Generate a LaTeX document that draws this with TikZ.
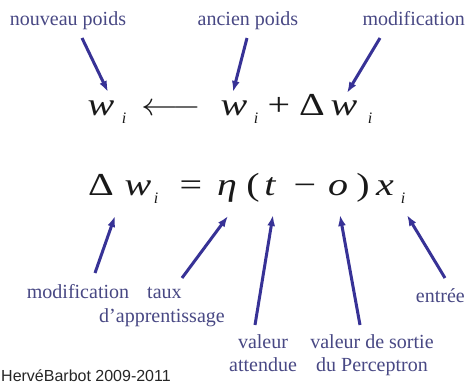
\RequirePackage{fix-cm}
\documentclass[tikz,border=0pt]{standalone}
\usepackage{fontspec}
\setmainfont{Liberation Serif}
\newfontfamily\creditfont{Liberation Sans}
\usetikzlibrary{arrows.meta}
\definecolor{lblc}{RGB}{72,72,132}
\definecolor{arrc}{RGB}{55,50,150}
\definecolor{eqc}{RGB}{25,25,25}
\begin{document}
\begin{tikzpicture}[x=1pt,y=-1pt,
  lbl/.style={text=lblc, font=\fontsize{20}{23}\selectfont, inner sep=0pt, anchor=base},
  glyph/.style={text=eqc, font=\fontsize{32}{36}\selectfont\itshape, inner sep=0pt, anchor=base, xscale=1.25},
  op/.style={text=eqc, font=\fontsize{32}{36}\selectfont, inner sep=0pt, anchor=base, xscale=1.25},
  subs/.style={text=eqc, font=\fontsize{16}{18}\selectfont\itshape, inner sep=0pt, anchor=base},
  arr/.style={draw=arrc, line width=3pt, -{Latex[length=11pt,width=8pt]}}]
\useasboundingbox[fill=white] (0,0) rectangle (467,383);
% equation 1
\node[glyph] (w1) at (101,115) {w};
\node[subs] (i1) at (124,123) {i};
\node[text=eqc, font=\fontsize{32}{36}\selectfont, inner sep=0pt, anchor=base, xscale=1.15] (la) at (171,115) {$\longleftarrow$};
\node[glyph] (w2) at (234,115) {w};
\node[subs] (i2) at (256,123) {i};
\node[op] (pl) at (279,115) {+};
\node[op] (D1) at (312,115) {Δ};
\node[glyph] (w3) at (344,115) {w};
\node[subs] (i3) at (370,123) {i};
% equation 2
\node[op] (D2) at (101,195) {Δ};
\node[glyph] (w4) at (138,195) {w};
\node[subs] (i4) at (156,203) {i};
\node[op] (eq) at (191,195) {=};
\node[glyph] (eta) at (227,195) {η};
\node[op] (lp) at (253,195) {(};
\node[glyph] (tt) at (270,195) {t};
\node[op] (mi) at (305,195) {−};
\node[glyph] (oo) at (338,195) {o};
\node[op] (rp) at (363,195) {)};
\node[glyph] (xx) at (385,195) {x};
\node[subs] (i5) at (403,203) {i};
% top labels
\node[lbl] (nouv) at (68,25) {nouveau poids};
\node[lbl] (anc) at (248,25) {ancien poids};
\node[lbl, anchor=base east] (modt) at (465,25) {modification};
% bottom labels
\node[lbl] (modb) at (78,298) {modification};
\node[lbl, anchor=base west] (taux) at (147,298) {taux};
\node[lbl] (appr) at (162,322) {d'apprentissage};
\node[lbl] (val1) at (263,348) {valeur};
\node[lbl] (val2) at (263,371) {attendue};
\node[lbl] (sor1) at (372,348) {valeur de sortie};
\node[lbl] (sor2) at (372,371) {du Perceptron};
\node[lbl, anchor=base east] (entr) at (465,302) {entrée};
\node[text=black!85, font=\creditfont\fontsize{16}{18}\selectfont, inner sep=0pt, anchor=base west] (cred) at (1,381) {HervéBarbot 2009-2011};
% arrow end points
\coordinate (a1) at (82,38);  \coordinate (b1) at (108,92);
\coordinate (a2) at (247,38); \coordinate (b2) at (233,92);
\coordinate (a3) at (380,38); \coordinate (b3) at (347,93);
\coordinate (a4) at (95,273);  \coordinate (b4) at (115,216);
\coordinate (a5) at (182,278); \coordinate (b5) at (228,216);
\coordinate (a6) at (255,325); \coordinate (b6) at (273,215);
\coordinate (a7) at (360,325); \coordinate (b7) at (340,215);
\coordinate (a8) at (445,278); \coordinate (b8) at (407,215);
\foreach \k in {1,...,8} {\draw[arr] (a\k) -- (b\k);}
\end{tikzpicture}
\end{document}
